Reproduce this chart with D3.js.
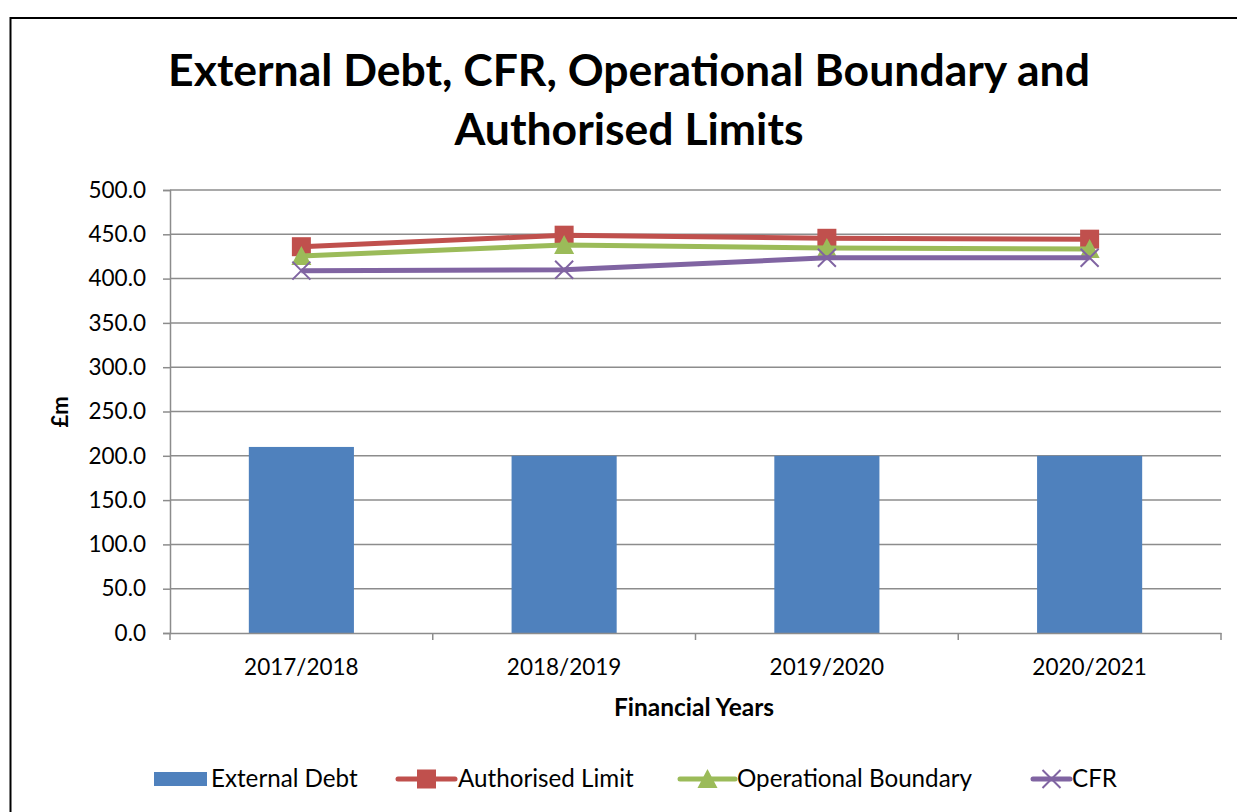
<!DOCTYPE html>
<html>
<head>
<meta charset="utf-8">
<script src="https://cdn.jsdelivr.net/npm/d3@7"></script>
<style>
  body { margin: 0; background: #fff; }
  svg { display: block; font-family: Lato, "Liberation Sans", sans-serif; }
</style>
</head>
<body>
<div id="viz"></div>
<script>
const years = ["2017/2018", "2018/2019", "2019/2020", "2020/2021"];
const externalDebt = [210.0, 200.0, 200.0, 200.0];
const authorisedLimit = [436.0, 449.0, 445.5, 444.5];
const operationalBoundary = [425.5, 438.0, 434.5, 433.5];
const cfr = [409.0, 410.0, 423.5, 423.5];
const yTicks = [0, 50, 100, 150, 200, 250, 300, 350, 400, 450, 500];

const W = 1237, H = 812;
const plot = { left: 170, right: 1221, top: 190, bottom: 633 };

const svg = d3.select("#viz").append("svg").attr("width", W).attr("height", H);

// chart border (only left/top visible in frame)
svg.append("rect")
  .attr("x", 10.5).attr("y", 18)
  .attr("width", W + 20).attr("height", H + 20)
  .attr("fill", "#fff").attr("stroke", "#000").attr("stroke-width", 2);

// title
const title = svg.append("text")
  .attr("text-anchor", "middle")
  .attr("font-weight", "bold")
  .attr("font-size", 44.5)
  .attr("fill", "#000");
title.append("tspan").attr("x", 629).attr("y", 86).text("External Debt, CFR, Operational Boundary and");
title.append("tspan").attr("x", 629).attr("y", 145).text("Authorised Limits");

const x = d3.scaleBand().domain(years).range([plot.left, plot.right]);
const y = d3.scaleLinear().domain([0, 500]).range([plot.bottom, plot.top]);

// gridlines
svg.append("g")
  .selectAll("line")
  .data(yTicks.filter(d => d > 0))
  .join("line")
  .attr("x1", plot.left).attr("x2", plot.right)
  .attr("y1", d => y(d)).attr("y2", d => y(d))
  .attr("stroke", "#8c8c8c").attr("stroke-width", 1.5);

// y axis
const yAxis = svg.append("g")
  .attr("transform", `translate(${plot.left},0)`)
  .call(d3.axisLeft(y).tickValues(yTicks).tickSize(7).tickPadding(17).tickFormat(d3.format(".1f")));
yAxis.select(".domain").attr("stroke", "#8c8c8c").attr("stroke-width", 1.5);
yAxis.selectAll(".tick line").attr("stroke", "#8c8c8c").attr("stroke-width", 1.5);
yAxis.selectAll("text").attr("font-size", 22.5).attr("fill", "#000").attr("font-family", "Lato, sans-serif");

// bars
const barW = x.bandwidth() / 2.5;
svg.append("g")
  .selectAll("rect")
  .data(externalDebt)
  .join("rect")
  .attr("x", (d, i) => x(years[i]) + x.bandwidth() / 2 - barW / 2)
  .attr("y", d => y(d))
  .attr("width", barW)
  .attr("height", d => y(0) - y(d))
  .attr("fill", "#4f81bd");

// x axis
const xAxis = svg.append("g")
  .attr("transform", `translate(0,${plot.bottom})`)
  .call(d3.axisBottom(x).tickSize(0).tickPadding(26));
xAxis.select(".domain").attr("stroke", "#8c8c8c").attr("stroke-width", 1.5);
xAxis.selectAll("text").attr("font-size", 22.5).attr("fill", "#000").attr("font-family", "Lato, sans-serif");
const boundaries = years.map(d => x(d)).concat([x(years[years.length - 1]) + x.bandwidth()]);
xAxis.selectAll("line.bound")
  .data(boundaries)
  .join("line")
  .attr("class", "bound")
  .attr("x1", d => d).attr("x2", d => d)
  .attr("y1", 0).attr("y2", 7)
  .attr("stroke", "#8c8c8c").attr("stroke-width", 1.5);

// axis titles
svg.append("text")
  .attr("transform", `translate(68,412) rotate(-90)`)
  .attr("text-anchor", "middle")
  .attr("font-weight", "bold").attr("font-size", 22)
  .text("£m");
svg.append("text")
  .attr("x", 694).attr("y", 716)
  .attr("text-anchor", "middle")
  .attr("font-weight", "bold").attr("font-size", 24.5)
  .text("Financial Years");

// lines
const cx = (i) => x(years[i]) + x.bandwidth() / 2;
const lineGen = d3.line().x((d, i) => cx(i)).y(d => y(d));

const series = [
  { name: "Authorised Limit", values: authorisedLimit, color: "#c0504d", marker: "square" },
  { name: "Operational Boundary", values: operationalBoundary, color: "#9bbb59", marker: "triangle" },
  { name: "CFR", values: cfr, color: "#8064a2", marker: "x" }
];

function drawMarker(g, type, color, px, py) {
  if (type === "square") {
    g.append("rect").attr("x", px - 9.5).attr("y", py - 9.5).attr("width", 19).attr("height", 19).attr("fill", color);
  } else if (type === "triangle") {
    g.append("path")
      .attr("d", `M${px},${py - 10} L${px + 10},${py + 9} L${px - 10},${py + 9} Z`)
      .attr("fill", color);
  } else {
    g.append("path")
      .attr("d", `M${px - 9},${py - 9} L${px + 9},${py + 9} M${px - 9},${py + 9} L${px + 9},${py - 9}`)
      .attr("stroke", color).attr("stroke-width", 2);
  }
}

series.forEach(s => {
  const g = svg.append("g");
  g.append("path")
    .datum(s.values)
    .attr("d", lineGen)
    .attr("fill", "none")
    .attr("stroke", s.color)
    .attr("stroke-width", 5)
    .attr("stroke-linejoin", "round");
  s.values.forEach((v, i) => drawMarker(g, s.marker, s.color, cx(i), y(v)));
});

// legend
const legY = 779;
const leg = svg.append("g").attr("font-size", 24.2).attr("fill", "#000");
leg.append("rect").attr("x", 154).attr("y", legY - 7).attr("width", 53).attr("height", 14).attr("fill", "#4f81bd");
leg.append("text").attr("x", 211).attr("y", legY + 8).text("External Debt");

const legItems = [
  { s: series[0], x0: 398, x1: 455, tx: 458 },
  { s: series[1], x0: 680, x1: 735, tx: 737 },
  { s: series[2], x0: 1033, x1: 1070, tx: 1072 }
];
legItems.forEach(it => {
  const g = leg.append("g");
  g.append("line").attr("x1", it.x0).attr("x2", it.x1).attr("y1", legY).attr("y2", legY)
    .attr("stroke", it.s.color).attr("stroke-width", 5).attr("stroke-linecap", "round");
  drawMarker(g, it.s.marker, it.s.color, (it.x0 + it.x1) / 2, legY);
  g.append("text").attr("x", it.tx).attr("y", legY + 8).text(it.s.name);
});
</script>
</body>
</html>
